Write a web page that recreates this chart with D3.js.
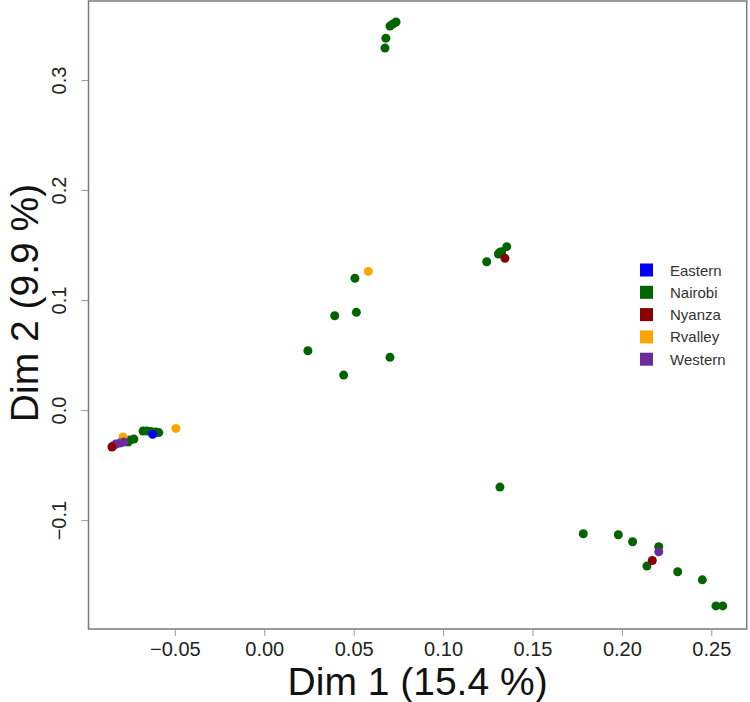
<!DOCTYPE html>
<html>
<head>
<meta charset="utf-8">
<script src="https://cdn.jsdelivr.net/npm/d3@7"></script>
<style>
  html, body { margin: 0; padding: 0; background: #fff; }
  svg { display: block; font-family: "Liberation Sans", Arial, sans-serif; }
</style>
</head>
<body>
<svg id="chart" width="750" height="702"></svg>
<script>
// ---- data ----
const regions = ["Eastern", "Nairobi", "Nyanza", "Rvalley", "Western"];
const regionColors = ["#0000FF", "#006400", "#8B0000", "#FFA500", "#6A2C9A"];

const eastern = [[-0.0624, -0.0221]];
const nairobi = [
  [0.0675, 0.329], [0.0680, 0.338], [0.0703, 0.349], [0.0720, 0.351], [0.0737, 0.3527],
  [0.0507, 0.1197], [0.0394, 0.0857], [0.0515, 0.0888], [0.0244, 0.0539], [0.0444, 0.0318], [0.0703, 0.0479],
  [0.1244, 0.1348], [0.1309, 0.1418], [0.1328, 0.1439], [0.1356, 0.1485], [0.1318, 0.1434],
  [0.1318, -0.070],
  [0.1784, -0.1124], [0.1980, -0.1133], [0.2060, -0.1197], [0.2206, -0.1242], [0.2140, -0.1418],
  [0.2312, -0.1470], [0.2450, -0.1543], [0.2526, -0.1780], [0.2564, -0.1780],
  [-0.0678, -0.0191], [-0.0656, -0.0191], [-0.0634, -0.0195], [-0.0606, -0.0200], [-0.0590, -0.0205],
  [-0.0779, -0.0282], [-0.0751, -0.0273], [-0.0729, -0.0264], [-0.0762, -0.0291]
];
const nyanza = [[0.1346, 0.1379], [0.2170, -0.1367], [-0.0852, -0.0336]];
const rvalley = [[0.0582, 0.126], [-0.0494, -0.0167], [-0.0790, -0.0245]];
const western = [[0.2206, -0.1288], [-0.0846, -0.0327], [-0.0830, -0.0309], [-0.0807, -0.0300], [-0.0785, -0.0291]];

const xTicks = [-0.05, 0.00, 0.05, 0.10, 0.15, 0.20, 0.25];
const yTicks = [-0.1, 0.0, 0.1, 0.2, 0.3];
const xTitle = "Dim 1 (15.4 %)";
const yTitle = "Dim 2 (9.9 %)";

// ---- layout ----
const plotL = 88.5, plotR = 746.7, plotT = 1, plotB = 629;
const svg = d3.select("#chart");

const x = d3.scaleLinear().domain([-0.0983, 0.2698]).range([plotL, plotR]);
const y = d3.scaleLinear().domain([-0.199, 0.3718]).range([plotB, plotT]);

// frame
svg.append("rect")
  .attr("x", plotL).attr("y", plotT)
  .attr("width", plotR - plotL).attr("height", plotB - plotT)
  .attr("fill", "none").attr("stroke", "#7a7a7a").attr("stroke-width", 1.5);

// x axis
const gx = svg.append("g").attr("transform", `translate(0,${plotB})`)
  .call(d3.axisBottom(x).tickValues(xTicks).tickSize(7).tickPadding(6)
    .tickFormat(d => d3.format(".2f")(d).replace("-", "\u2212")));
gx.select(".domain").remove();
gx.selectAll(".tick line").attr("stroke", "#999");
gx.selectAll(".tick text").attr("font-size", 20).attr("fill", "#222")
  .attr("font-family", "Liberation Sans, Arial, sans-serif");

// y axis
const gy = svg.append("g").attr("transform", `translate(${plotL},0)`)
  .call(d3.axisLeft(y).tickValues(yTicks).tickSize(7).tickPadding(0)
    .tickFormat(d => d3.format(".1f")(d).replace("-", "\u2212")));
gy.select(".domain").remove();
gy.selectAll(".tick line").attr("stroke", "#999");
gy.selectAll(".tick text")
  .attr("font-size", 20).attr("fill", "#222")
  .attr("font-family", "Liberation Sans, Arial, sans-serif")
  .attr("x", null).attr("dy", null)
  .attr("text-anchor", "middle")
  .attr("transform", "translate(-23,0) rotate(-90)");

// titles
svg.append("text")
  .attr("x", (plotL + plotR) / 2).attr("y", 695)
  .attr("text-anchor", "middle").attr("font-size", 39).attr("fill", "#111")
  .text(xTitle);
svg.append("text")
  .attr("transform", `translate(38,${(plotT + plotB) / 2 - 12}) rotate(-90)`)
  .attr("text-anchor", "middle").attr("font-size", 39).attr("fill", "#111")
  .text(yTitle);

// points
const seriesData = [eastern, nairobi, nyanza, rvalley, western];
const drawOrder = [1, 3, 4, 2, 0];
drawOrder.forEach(i => {
  svg.append("g").selectAll("circle").data(seriesData[i]).join("circle")
    .attr("cx", d => x(d[0])).attr("cy", d => y(d[1]))
    .attr("r", 4.5).attr("fill", regionColors[i]);
});

// legend
const lg = svg.append("g").attr("transform", "translate(640,270)");
regions.forEach((r, i) => {
  const row = lg.append("g").attr("transform", `translate(0,${i * 22.3})`);
  row.append("rect").attr("x", 0).attr("y", -6.5).attr("width", 13).attr("height", 13)
    .attr("fill", regionColors[i]);
  row.append("text").attr("x", 30).attr("y", 5.5).attr("font-size", 15).attr("fill", "#333")
    .text(r);
});
</script>
</body>
</html>
